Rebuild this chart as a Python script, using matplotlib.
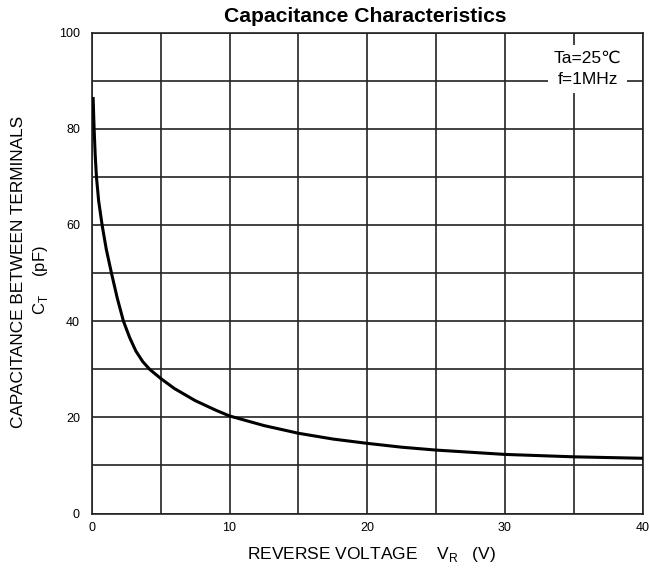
import matplotlib
matplotlib.use("Agg")
import matplotlib.pyplot as plt

# values
vr = [0.1, 0.17, 0.25, 0.34, 0.5, 0.75, 1.05, 1.43, 1.85, 2.3, 2.75, 3.2, 3.7, 4.2, 5.0,
      6.0, 7.5, 9.0, 10.0, 12.5, 15.0, 17.5, 20.0, 22.5, 25.0, 30.0, 35.0, 40.0]
ct = [86.3, 80.0, 74.5, 70.0, 65.0, 60.0, 55.0, 50.0, 44.8, 40.0, 36.6, 33.8, 31.6, 30.0, 28.1,
      26.0, 23.5, 21.5, 20.3, 18.3, 16.7, 15.5, 14.6, 13.8, 13.2, 12.3, 11.8, 11.5]

xticks = [0, 10, 20, 30, 40]
yticks = [0, 20, 40, 60, 80, 100]

plt.rcParams['font.family'] = ['Liberation Sans', 'DejaVu Sans']

fig = plt.figure(figsize=(6.49, 5.73), dpi=100)
ax = fig.add_axes([0.1414, 0.1037, 0.8489, 0.8394])

ax.set_xlim(0, 40)
ax.set_ylim(0, 100)
ax.set_xticks(xticks)
ax.set_yticks(yticks)
ax.set_xticks(range(0, 41, 5), minor=True)
ax.set_yticks(range(0, 101, 10), minor=True)
ax.grid(True, which='both', color='#222222', lw=1.2)
ax.tick_params(which='both', length=0, labelsize=9)
ax.tick_params(axis='x', pad=6)
ax.tick_params(axis='y', pad=8.5)
for s in ax.spines.values():
    s.set_color('#222222')
    s.set_linewidth(1.2)

ax.plot(vr, ct, color='black', lw=2.2, zorder=3)

ax.text(36.0, 92.5, "Ta=25\u2103\nf=1MHz", ha='center', va='center', fontsize=12.5,
        linespacing=1.55, zorder=4,
        bbox=dict(facecolor='white', edgecolor='none', pad=4))

fig.text(0.563, 0.971, "Capacitance Characteristics", ha='center', va='center',
         fontsize=15.2, fontweight='bold')
fig.text(0.3806, 0.032, r"REVERSE VOLTAGE    V$_\mathregular{R}$   (V)", ha='left',
         va='center', fontsize=12.5)
fig.text(0.029, 0.525, "CAPACITANCE BETWEEN TERMINALS", rotation=90, ha='center',
         va='center', fontsize=12.4)
fig.text(0.062, 0.511, r"C$_\mathregular{T}$    (pF)", rotation=90, ha='center',
         va='center', fontsize=12)

fig.savefig("out.png", dpi=100)
